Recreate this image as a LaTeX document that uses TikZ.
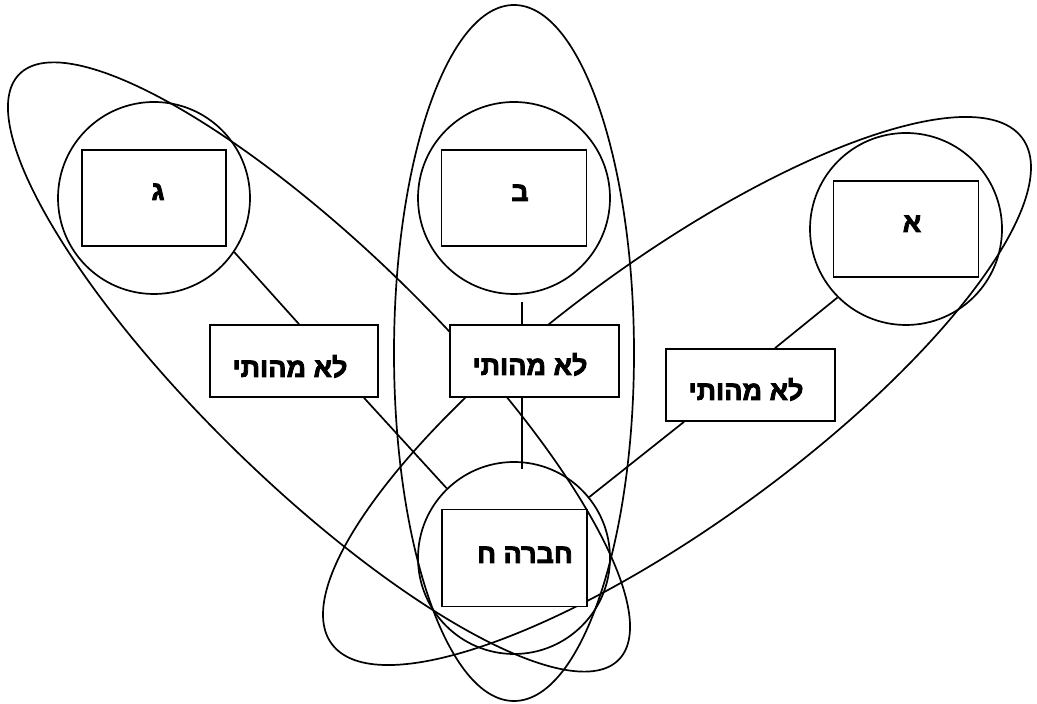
\documentclass[tikz,border=0pt]{standalone}
\usepackage{fontspec}
\newfontfamily\hebb[Script=Hebrew,FakeBold=3]{Liberation Sans}
\TeXXeTstate=1
\usetikzlibrary{calc}
\begin{document}
\begin{tikzpicture}[x=1pt,y=1pt,
  line width=1.7pt,
  ring/.style={circle,draw,minimum size=192pt,inner sep=0pt},
  inbox/.style={rectangle,draw,fill=white,minimum width=145pt,minimum height=96pt,inner sep=0pt},
  midbox/.style={rectangle,draw,fill=white,minimum width=168pt,minimum height=72pt,inner sep=0pt},
  txt/.style={anchor=base,inner sep=0pt,font=\hebb\bfseries\fontsize{27}{31}\selectfont}]
\useasboundingbox (0,0) rectangle (1037,704);
% large ellipses
\coordinate (EL) at (319,337);
\coordinate (EV) at (514,351);
\coordinate (ER) at (677,313);
\draw[rotate around={-44.3:(EL)}] (EL) ellipse [x radius=419pt, y radius=118pt];
\draw (EV) ellipse [x radius=120pt, y radius=348pt];
\draw[rotate around={36.2:(ER)}] (ER) ellipse [x radius=428pt, y radius=131pt];
% circles
\node[ring] (G) at (154,506) {};
\node[ring] (B) at (514,506) {};
\node[ring] (A) at (906,475) {};
\node[ring] (H) at (514,146) {};
% boxes in circles
\node[inbox,minimum width=144pt] (Gb) at (154,506) {};
\node[inbox] (Bb) at (514,506) {};
\node[inbox] (Ab) at (906,475) {};
\node[inbox,minimum height=97pt] (Hb) at (514.5,146) {};
% middle boxes
\node[midbox] (L) at (294,343) {};
\node[midbox,minimum width=169pt] (M) at (534.5,343) {};
\node[midbox,minimum width=169pt] (R) at (750.5,319) {};
% texts
\node[txt] (tG) at (158,504) {\beginR ג\endR};
\node[txt] (tB) at (520,503) {\beginR ב\endR};
\node[txt] (tA) at (912,472) {\beginR א\endR};
\node[txt] (tH) at (525,141) {\beginR חברה ח\endR};
\node[txt] (tL) at (290,327) {\beginR לא מהותי\endR};
\node[txt] (tM) at (530,329) {\beginR לא מהותי\endR};
\node[txt] (tR) at (746,304) {\beginR לא מהותי\endR};
% connectors
\draw (G.-34) -- ([xshift=5pt]L.north);
\draw ([xshift=70pt]L.south) -- (H.134);
\draw ([xshift=8pt,yshift=-7pt]B.south) -- ([xshift=-12.5pt]M.north);
\draw ([xshift=-12.5pt]M.south) -- ([xshift=8pt,yshift=-8pt]H.north);
\draw (A.-135) -- ([xshift=24.5pt]R.north);
\draw ([xshift=-66.5pt]R.south) -- (H.39);
\end{tikzpicture}
\end{document}
